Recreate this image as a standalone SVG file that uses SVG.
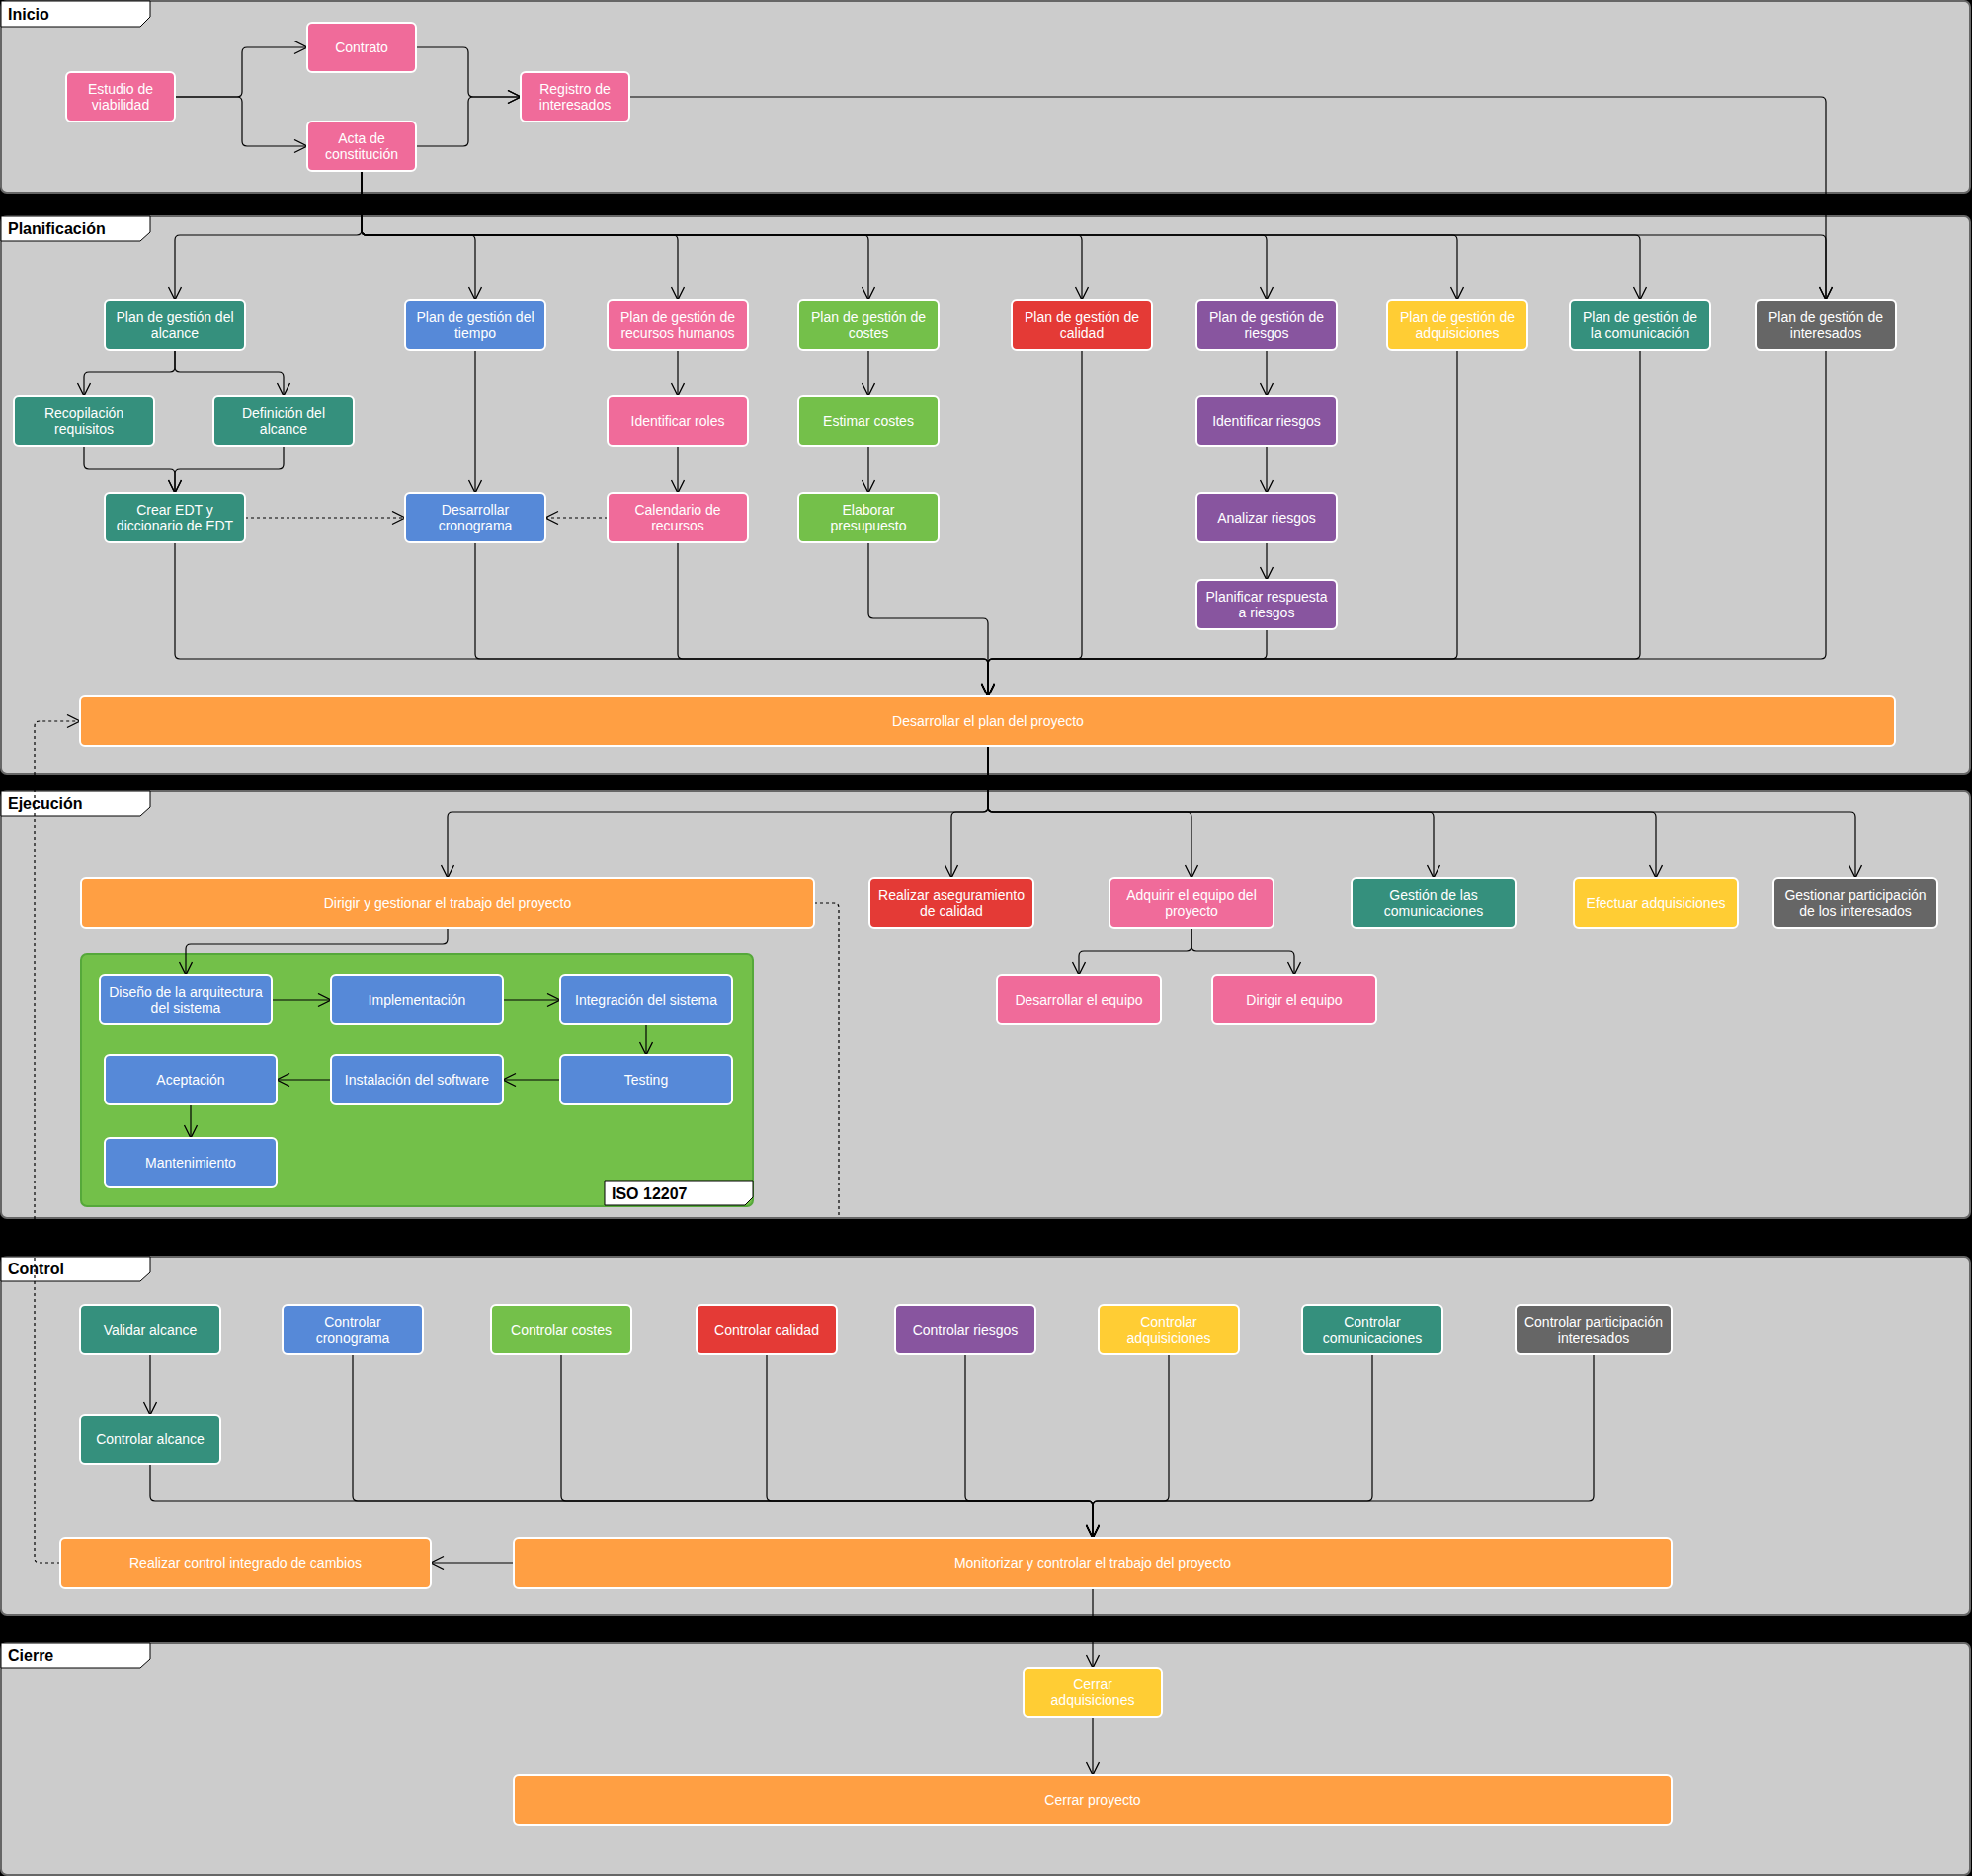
<svg xmlns="http://www.w3.org/2000/svg" width="1996" height="1899" viewBox="0 0 1996 1899">
  <defs>
    <style>
      .lane { fill:#cccccc; stroke:#666666; stroke-width:2; }
      .tab { fill:#ffffff; stroke:#000000; stroke-width:1; }
      .tabt { font-family:"Liberation Sans", Arial, sans-serif; font-size:16px; font-weight:bold; fill:#000000; }
      .n { stroke:#ffffff; stroke-width:2; }
      .pink { fill:#f06b9a; }
      .teal { fill:#35907d; }
      .blue { fill:#5689d8; }
      .green { fill:#74c04a; }
      .red { fill:#e43a36; }
      .purple { fill:#88559f; }
      .yellow { fill:#ffcd34; }
      .grey { fill:#666666; }
      .orange { fill:#ff9f43; }
      .t { font-family:"Liberation Sans", Arial, sans-serif; font-size:14px; fill:#ffffff; text-anchor:middle; }
      .e { fill:none; stroke:#000000; stroke-width:1.2; marker-end:url(#arr); }
      .d { fill:none; stroke:#000000; stroke-width:1.2; stroke-dasharray:3 3; }
      .da { fill:none; stroke:#000000; stroke-width:1.2; stroke-dasharray:3 3; marker-end:url(#arr); }
    </style>
    <marker id="arr" markerUnits="userSpaceOnUse" markerWidth="16" markerHeight="16" refX="14" refY="7" orient="auto">
      <path d="M1,0.5 L14,7 L1,13.5" fill="none" stroke="#000000" stroke-width="1.3"/>
    </marker>
  </defs>

  <!-- backdrop between the swimlanes -->
  <rect x="0" y="0" width="1996" height="1899" fill="#000000"/>

  <!-- swimlanes -->
  <g id="lanes">
    <rect class="lane" x="1" y="1" width="1993" height="194" rx="6"/>
    <rect class="lane" x="1" y="219" width="1993" height="564" rx="6"/>
    <rect class="lane" x="1" y="801" width="1993" height="432" rx="6"/>
    <rect class="lane" x="1" y="1272" width="1993" height="363" rx="6"/>
    <rect class="lane" x="1" y="1663" width="1993" height="235" rx="6"/>

    <polygon class="tab" points="1,1 152,1 152,17 142,27 1,27"/>
    <text class="tabt" x="8" y="20">Inicio</text>
    <polygon class="tab" points="1,219 152,219 152,235 142,244 1,244"/>
    <text class="tabt" x="8" y="237">Planificación</text>
    <polygon class="tab" points="1,801 152,801 152,817 142,826 1,826"/>
    <text class="tabt" x="8" y="819">Ejecución</text>
    <polygon class="tab" points="1,1272 152,1272 152,1288 142,1297 1,1297"/>
    <text class="tabt" x="8" y="1290">Control</text>
    <polygon class="tab" points="1,1663 152,1663 152,1679 142,1688 1,1688"/>
    <text class="tabt" x="8" y="1681">Cierre</text>
  </g>

  <!-- ISO 12207 software life-cycle container -->
  <g id="iso12207">
    <rect x="82" y="966" width="680" height="255" rx="6" fill="#73c049" stroke="#55a83a" stroke-width="2"/>
    <polygon class="tab" points="612,1195 762,1195 762,1212 754,1220 612,1220"/>
    <text class="tabt" x="619" y="1214">ISO 12207</text>
  </g>

  <!-- connectors -->
  <g id="connectors">
    <!-- Inicio -->
    <path class="e" d="M177,98 H240 Q245,98 245,93 V53 Q245,48 250,48 H311"/>
    <path class="e" d="M177,98 H240 Q245,98 245,103 V143 Q245,148 250,148 H311"/>
    <path class="e" d="M421,48 H469 Q474,48 474,53 V93 Q474,98 479,98 H527"/>
    <path class="e" d="M421,148 H469 Q474,148 474,143 V103 Q474,98 479,98 H527"/>
    <path class="e" d="M637,98 H1843 Q1848,98 1848,103 V304"/>

    <!-- Acta de constitución to every plan -->
    <path class="e" d="M366,173 V233 Q366,238 361,238 H182 Q177,238 177,243 V304"/>
    <path class="e" d="M366,173 V233 Q366,238 371,238 H476 Q481,238 481,243 V304"/>
    <path class="e" d="M366,173 V233 Q366,238 371,238 H681 Q686,238 686,243 V304"/>
    <path class="e" d="M366,173 V233 Q366,238 371,238 H874 Q879,238 879,243 V304"/>
    <path class="e" d="M366,173 V233 Q366,238 371,238 H1090 Q1095,238 1095,243 V304"/>
    <path class="e" d="M366,173 V233 Q366,238 371,238 H1277 Q1282,238 1282,243 V304"/>
    <path class="e" d="M366,173 V233 Q366,238 371,238 H1470 Q1475,238 1475,243 V304"/>
    <path class="e" d="M366,173 V233 Q366,238 371,238 H1655 Q1660,238 1660,243 V304"/>
    <path class="e" d="M366,173 V233 Q366,238 371,238 H1843 Q1848,238 1848,243 V304"/>

    <!-- scope -->
    <path class="e" d="M177,354 V372 Q177,377 172,377 H90 Q85,377 85,382 V401"/>
    <path class="e" d="M177,354 V372 Q177,377 182,377 H282 Q287,377 287,382 V401"/>
    <path class="e" d="M85,451 V470 Q85,475 90,475 H172 Q177,475 177,480 V499"/>
    <path class="e" d="M287,451 V470 Q287,475 282,475 H182 Q177,475 177,480 V499"/>
    <!-- time, resources, costs, risks -->
    <path class="e" d="M481,354 V499"/>
    <path class="e" d="M686,354 V401"/>
    <path class="e" d="M686,451 V499"/>
    <path class="e" d="M879,354 V401"/>
    <path class="e" d="M879,451 V499"/>
    <path class="e" d="M1282,354 V401"/>
    <path class="e" d="M1282,451 V499"/>
    <path class="e" d="M1282,549 V587"/>
    <!-- schedule inputs -->
    <path class="da" d="M248,524 H410"/>
    <path class="da" d="M615,524 H552"/>

    <!-- plans into the project plan -->
    <path class="e" d="M177,549 V662 Q177,667 182,667 H995 Q1000,667 1000,672 V705"/>
    <path class="e" d="M481,549 V662 Q481,667 486,667 H995 Q1000,667 1000,672 V705"/>
    <path class="e" d="M686,549 V662 Q686,667 691,667 H995 Q1000,667 1000,672 V705"/>
    <path class="e" d="M879,549 V621 Q879,626 884,626 H995 Q1000,626 1000,631 V705"/>
    <path class="e" d="M1095,354 V662 Q1095,667 1090,667 H1005 Q1000,667 1000,672 V705"/>
    <path class="e" d="M1282,637 V662 Q1282,667 1277,667 H1005 Q1000,667 1000,672 V705"/>
    <path class="e" d="M1475,354 V662 Q1475,667 1470,667 H1005 Q1000,667 1000,672 V705"/>
    <path class="e" d="M1660,354 V662 Q1660,667 1655,667 H1005 Q1000,667 1000,672 V705"/>
    <path class="e" d="M1848,354 V662 Q1848,667 1843,667 H1005 Q1000,667 1000,672 V705"/>

    <!-- change control feedback -->
    <path class="da" d="M61,1582 H40 Q35,1582 35,1577 V735 Q35,730 40,730 H81"/>

    <!-- Ejecución -->
    <path class="e" d="M1000,755 V817 Q1000,822 995,822 H458 Q453,822 453,827 V889"/>
    <path class="e" d="M1000,755 V817 Q1000,822 995,822 H968 Q963,822 963,827 V889"/>
    <path class="e" d="M1000,755 V817 Q1000,822 1005,822 H1201 Q1206,822 1206,827 V889"/>
    <path class="e" d="M1000,755 V817 Q1000,822 1005,822 H1446 Q1451,822 1451,827 V889"/>
    <path class="e" d="M1000,755 V817 Q1000,822 1005,822 H1671 Q1676,822 1676,827 V889"/>
    <path class="e" d="M1000,755 V817 Q1000,822 1005,822 H1873 Q1878,822 1878,827 V889"/>
    <path class="e" d="M1206,939 V958 Q1206,963 1201,963 H1097 Q1092,963 1092,968 V987"/>
    <path class="e" d="M1206,939 V958 Q1206,963 1211,963 H1305 Q1310,963 1310,968 V987"/>
    <path class="d" d="M824,914 H844 Q849,914 849,919 V1232"/>
    <path class="e" d="M453,939 V951 Q453,956 448,956 H193 Q188,956 188,961 V987"/>
    <path class="e" d="M275,1012 H335"/>
    <path class="e" d="M509,1012 H567"/>
    <path class="e" d="M654,1037 V1068"/>
    <path class="e" d="M567,1093 H509"/>
    <path class="e" d="M335,1093 H280"/>
    <path class="e" d="M193,1118 V1152"/>

    <!-- Control -->
    <path class="e" d="M152,1371 V1432"/>
    <path class="e" d="M152,1482 V1514 Q152,1519 157,1519 H1101 Q1106,1519 1106,1524 V1557"/>
    <path class="e" d="M357,1371 V1514 Q357,1519 362,1519 H1101 Q1106,1519 1106,1524 V1557"/>
    <path class="e" d="M568,1371 V1514 Q568,1519 573,1519 H1101 Q1106,1519 1106,1524 V1557"/>
    <path class="e" d="M776,1371 V1514 Q776,1519 781,1519 H1101 Q1106,1519 1106,1524 V1557"/>
    <path class="e" d="M977,1371 V1514 Q977,1519 982,1519 H1101 Q1106,1519 1106,1524 V1557"/>
    <path class="e" d="M1183,1371 V1514 Q1183,1519 1178,1519 H1111 Q1106,1519 1106,1524 V1557"/>
    <path class="e" d="M1389,1371 V1514 Q1389,1519 1384,1519 H1111 Q1106,1519 1106,1524 V1557"/>
    <path class="e" d="M1613,1371 V1514 Q1613,1519 1608,1519 H1111 Q1106,1519 1106,1524 V1557"/>
    <path class="e" d="M520,1582 H436"/>

    <!-- Cierre -->
    <path class="e" d="M1106,1607 V1688"/>
    <path class="e" d="M1106,1738 V1797"/>
  </g>

  <!-- Inicio -->
  <g id="estudio-viabilidad"><rect class="n pink" x="67" y="73" width="110" height="50" rx="5"/><text class="t" x="122"><tspan x="122" y="94.5">Estudio de</tspan><tspan x="122" y="110.5">viabilidad</tspan></text></g>
  <g id="contrato"><rect class="n pink" x="311" y="23" width="110" height="50" rx="5"/><text class="t" x="366" y="53">Contrato</text></g>
  <g id="acta-constitucion"><rect class="n pink" x="311" y="123" width="110" height="50" rx="5"/><text class="t" x="366"><tspan x="366" y="144.5">Acta de</tspan><tspan x="366" y="160.5">constitución</tspan></text></g>
  <g id="registro-interesados"><rect class="n pink" x="527" y="73" width="110" height="50" rx="5"/><text class="t" x="582"><tspan x="582" y="94.5">Registro de</tspan><tspan x="582" y="110.5">interesados</tspan></text></g>

  <!-- Planificación: management plans -->
  <g id="plan-alcance"><rect class="n teal" x="106" y="304" width="142" height="50" rx="5"/><text class="t" x="177"><tspan x="177" y="325.5">Plan de gestión del</tspan><tspan x="177" y="341.5">alcance</tspan></text></g>
  <g id="plan-tiempo"><rect class="n blue" x="410" y="304" width="142" height="50" rx="5"/><text class="t" x="481"><tspan x="481" y="325.5">Plan de gestión del</tspan><tspan x="481" y="341.5">tiempo</tspan></text></g>
  <g id="plan-rrhh"><rect class="n pink" x="615" y="304" width="142" height="50" rx="5"/><text class="t" x="686"><tspan x="686" y="325.5">Plan de gestión de</tspan><tspan x="686" y="341.5">recursos humanos</tspan></text></g>
  <g id="plan-costes"><rect class="n green" x="808" y="304" width="142" height="50" rx="5"/><text class="t" x="879"><tspan x="879" y="325.5">Plan de gestión de</tspan><tspan x="879" y="341.5">costes</tspan></text></g>
  <g id="plan-calidad"><rect class="n red" x="1024" y="304" width="142" height="50" rx="5"/><text class="t" x="1095"><tspan x="1095" y="325.5">Plan de gestión de</tspan><tspan x="1095" y="341.5">calidad</tspan></text></g>
  <g id="plan-riesgos"><rect class="n purple" x="1211" y="304" width="142" height="50" rx="5"/><text class="t" x="1282"><tspan x="1282" y="325.5">Plan de gestión de</tspan><tspan x="1282" y="341.5">riesgos</tspan></text></g>
  <g id="plan-adquisiciones"><rect class="n yellow" x="1404" y="304" width="142" height="50" rx="5"/><text class="t" x="1475"><tspan x="1475" y="325.5">Plan de gestión de</tspan><tspan x="1475" y="341.5">adquisiciones</tspan></text></g>
  <g id="plan-comunicacion"><rect class="n teal" x="1589" y="304" width="142" height="50" rx="5"/><text class="t" x="1660"><tspan x="1660" y="325.5">Plan de gestión de</tspan><tspan x="1660" y="341.5">la comunicación</tspan></text></g>
  <g id="plan-interesados"><rect class="n grey" x="1777" y="304" width="142" height="50" rx="5"/><text class="t" x="1848"><tspan x="1848" y="325.5">Plan de gestión de</tspan><tspan x="1848" y="341.5">interesados</tspan></text></g>

  <!-- Planificación: activities -->
  <g id="recopilacion-requisitos"><rect class="n teal" x="14" y="401" width="142" height="50" rx="5"/><text class="t" x="85"><tspan x="85" y="422.5">Recopilación</tspan><tspan x="85" y="438.5">requisitos</tspan></text></g>
  <g id="definicion-alcance"><rect class="n teal" x="216" y="401" width="142" height="50" rx="5"/><text class="t" x="287"><tspan x="287" y="422.5">Definición del</tspan><tspan x="287" y="438.5">alcance</tspan></text></g>
  <g id="crear-edt"><rect class="n teal" x="106" y="499" width="142" height="50" rx="5"/><text class="t" x="177"><tspan x="177" y="520.5">Crear EDT y</tspan><tspan x="177" y="536.5">diccionario de EDT</tspan></text></g>
  <g id="desarrollar-cronograma"><rect class="n blue" x="410" y="499" width="142" height="50" rx="5"/><text class="t" x="481"><tspan x="481" y="520.5">Desarrollar</tspan><tspan x="481" y="536.5">cronograma</tspan></text></g>
  <g id="identificar-roles"><rect class="n pink" x="615" y="401" width="142" height="50" rx="5"/><text class="t" x="686" y="431">Identificar roles</text></g>
  <g id="calendario-recursos"><rect class="n pink" x="615" y="499" width="142" height="50" rx="5"/><text class="t" x="686"><tspan x="686" y="520.5">Calendario de</tspan><tspan x="686" y="536.5">recursos</tspan></text></g>
  <g id="estimar-costes"><rect class="n green" x="808" y="401" width="142" height="50" rx="5"/><text class="t" x="879" y="431">Estimar costes</text></g>
  <g id="elaborar-presupuesto"><rect class="n green" x="808" y="499" width="142" height="50" rx="5"/><text class="t" x="879"><tspan x="879" y="520.5">Elaborar</tspan><tspan x="879" y="536.5">presupuesto</tspan></text></g>
  <g id="identificar-riesgos"><rect class="n purple" x="1211" y="401" width="142" height="50" rx="5"/><text class="t" x="1282" y="431">Identificar riesgos</text></g>
  <g id="analizar-riesgos"><rect class="n purple" x="1211" y="499" width="142" height="50" rx="5"/><text class="t" x="1282" y="529">Analizar riesgos</text></g>
  <g id="planificar-respuesta"><rect class="n purple" x="1211" y="587" width="142" height="50" rx="5"/><text class="t" x="1282"><tspan x="1282" y="608.5">Planificar respuesta</tspan><tspan x="1282" y="624.5">a riesgos</tspan></text></g>
  <g id="plan-proyecto"><rect class="n orange" x="81" y="705" width="1837" height="50" rx="5"/><text class="t" x="1000" y="735">Desarrollar el plan del proyecto</text></g>

  <!-- Ejecución -->
  <g id="dirigir-trabajo"><rect class="n orange" x="82" y="889" width="742" height="50" rx="5"/><text class="t" x="453" y="919">Dirigir y gestionar el trabajo del proyecto</text></g>
  <g id="aseguramiento-calidad"><rect class="n red" x="880" y="889" width="166" height="50" rx="5"/><text class="t" x="963"><tspan x="963" y="910.5">Realizar aseguramiento</tspan><tspan x="963" y="926.5">de calidad</tspan></text></g>
  <g id="adquirir-equipo"><rect class="n pink" x="1123" y="889" width="166" height="50" rx="5"/><text class="t" x="1206"><tspan x="1206" y="910.5">Adquirir el equipo del</tspan><tspan x="1206" y="926.5">proyecto</tspan></text></g>
  <g id="gestion-comunicaciones"><rect class="n teal" x="1368" y="889" width="166" height="50" rx="5"/><text class="t" x="1451"><tspan x="1451" y="910.5">Gestión de las</tspan><tspan x="1451" y="926.5">comunicaciones</tspan></text></g>
  <g id="efectuar-adquisiciones"><rect class="n yellow" x="1593" y="889" width="166" height="50" rx="5"/><text class="t" x="1676" y="919">Efectuar adquisiciones</text></g>
  <g id="gestionar-participacion"><rect class="n grey" x="1795" y="889" width="166" height="50" rx="5"/><text class="t" x="1878"><tspan x="1878" y="910.5">Gestionar participación</tspan><tspan x="1878" y="926.5">de los interesados</tspan></text></g>
  <g id="desarrollar-equipo"><rect class="n pink" x="1009" y="987" width="166" height="50" rx="5"/><text class="t" x="1092" y="1017">Desarrollar el equipo</text></g>
  <g id="dirigir-equipo"><rect class="n pink" x="1227" y="987" width="166" height="50" rx="5"/><text class="t" x="1310" y="1017">Dirigir el equipo</text></g>

  <!-- ISO 12207 processes -->
  <g id="diseno-arquitectura"><rect class="n blue" x="101" y="987" width="174" height="50" rx="5"/><text class="t" x="188"><tspan x="188" y="1008.5">Diseño de la arquitectura</tspan><tspan x="188" y="1024.5">del sistema</tspan></text></g>
  <g id="implementacion"><rect class="n blue" x="335" y="987" width="174" height="50" rx="5"/><text class="t" x="422" y="1017">Implementación</text></g>
  <g id="integracion"><rect class="n blue" x="567" y="987" width="174" height="50" rx="5"/><text class="t" x="654" y="1017">Integración del sistema</text></g>
  <g id="testing"><rect class="n blue" x="567" y="1068" width="174" height="50" rx="5"/><text class="t" x="654" y="1098">Testing</text></g>
  <g id="instalacion"><rect class="n blue" x="335" y="1068" width="174" height="50" rx="5"/><text class="t" x="422" y="1098">Instalación del software</text></g>
  <g id="aceptacion"><rect class="n blue" x="106" y="1068" width="174" height="50" rx="5"/><text class="t" x="193" y="1098">Aceptación</text></g>
  <g id="mantenimiento"><rect class="n blue" x="106" y="1152" width="174" height="50" rx="5"/><text class="t" x="193" y="1182">Mantenimiento</text></g>

  <!-- Control -->
  <g id="validar-alcance"><rect class="n teal" x="81" y="1321" width="142" height="50" rx="5"/><text class="t" x="152" y="1351">Validar alcance</text></g>
  <g id="controlar-cronograma"><rect class="n blue" x="286" y="1321" width="142" height="50" rx="5"/><text class="t" x="357"><tspan x="357" y="1342.5">Controlar</tspan><tspan x="357" y="1358.5">cronograma</tspan></text></g>
  <g id="controlar-costes"><rect class="n green" x="497" y="1321" width="142" height="50" rx="5"/><text class="t" x="568" y="1351">Controlar costes</text></g>
  <g id="controlar-calidad"><rect class="n red" x="705" y="1321" width="142" height="50" rx="5"/><text class="t" x="776" y="1351">Controlar calidad</text></g>
  <g id="controlar-riesgos"><rect class="n purple" x="906" y="1321" width="142" height="50" rx="5"/><text class="t" x="977" y="1351">Controlar riesgos</text></g>
  <g id="controlar-adquisiciones"><rect class="n yellow" x="1112" y="1321" width="142" height="50" rx="5"/><text class="t" x="1183"><tspan x="1183" y="1342.5">Controlar</tspan><tspan x="1183" y="1358.5">adquisiciones</tspan></text></g>
  <g id="controlar-comunicaciones"><rect class="n teal" x="1318" y="1321" width="142" height="50" rx="5"/><text class="t" x="1389"><tspan x="1389" y="1342.5">Controlar</tspan><tspan x="1389" y="1358.5">comunicaciones</tspan></text></g>
  <g id="controlar-participacion"><rect class="n grey" x="1534" y="1321" width="158" height="50" rx="5"/><text class="t" x="1613"><tspan x="1613" y="1342.5">Controlar participación</tspan><tspan x="1613" y="1358.5">interesados</tspan></text></g>
  <g id="controlar-alcance"><rect class="n teal" x="81" y="1432" width="142" height="50" rx="5"/><text class="t" x="152" y="1462">Controlar alcance</text></g>
  <g id="control-integrado-cambios"><rect class="n orange" x="61" y="1557" width="375" height="50" rx="5"/><text class="t" x="248.5" y="1587">Realizar control integrado de cambios</text></g>
  <g id="monitorizar-controlar"><rect class="n orange" x="520" y="1557" width="1172" height="50" rx="5"/><text class="t" x="1106" y="1587">Monitorizar y controlar el trabajo del proyecto</text></g>

  <!-- Cierre -->
  <g id="cerrar-adquisiciones"><rect class="n yellow" x="1036" y="1688" width="140" height="50" rx="5"/><text class="t" x="1106"><tspan x="1106" y="1709.5">Cerrar</tspan><tspan x="1106" y="1725.5">adquisiciones</tspan></text></g>
  <g id="cerrar-proyecto"><rect class="n orange" x="520" y="1797" width="1172" height="50" rx="5"/><text class="t" x="1106" y="1827">Cerrar proyecto</text></g>
</svg>
